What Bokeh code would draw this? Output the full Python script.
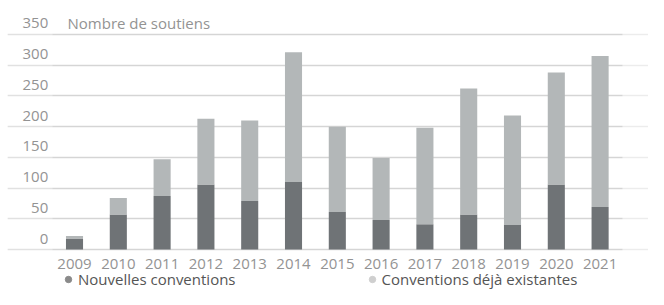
from bokeh.plotting import figure
from bokeh.models import (Range1d, FixedTicker, Legend, LegendItem, BoxAnnotation,
                          ColumnDataSource)
from bokeh.core.properties import value
from bokeh.embed import file_html
from bokeh.resources import INLINE

# ---- data ----
years = [2009, 2010, 2011, 2012, 2013, 2014, 2015, 2016, 2017, 2018, 2019, 2020, 2021]
year_labels = [str(y) for y in years]
nouvelles = [18, 57, 87, 106, 79, 110, 61, 48, 41, 57, 40, 106, 69]
existantes = [4, 27, 60, 107, 131, 211, 139, 101, 157, 205, 178, 182, 246]
y_ticks = [0, 50, 100, 150, 200, 250, 300, 350]
y_tick_labels = ["0", "50", "100", "150", "200", "250", "300", "350"]
axis_title = "Nombre de soutiens"
series_names = ["Nouvelles conventions", "Conventions déjà existantes"]

# ---- style ----
FONT = "Open Sans"
DARK = "#6f7376"
LIGHT = "#b3b7b8"
DARK_LEG = "#8a8a8a"
LIGHT_LEG = "#cfcfcf"
GRID = "#d5d5d5"
TXT = "#939393"

src = ColumnDataSource(dict(year=years, nouvelles=nouvelles, existantes=existantes))

# frame covers the whole canvas (labels and legend drawn inside it)
p = figure(width=648, height=289, output_backend="svg", toolbar_location=None,
           x_range=Range1d(2007.47, 2022.105), y_range=Range1d(-65.1, 405.3),
           min_border_left=7, min_border_right=0, min_border_top=0,
           min_border_bottom=0)
p.outline_line_color = None
p.background_fill_color = "white"
p.border_fill_color = "white"

p.xaxis.visible = False
p.yaxis.visible = False
p.xgrid.visible = False
p.ygrid.ticker = FixedTicker(ticks=y_ticks)
p.ygrid.grid_line_color = GRID
p.ygrid.grid_line_width = 1.6

# fade of grid at both ends
p.add_layout(BoxAnnotation(left=2021.51, fill_color="white", fill_alpha=0.55,
                           line_color=None, level="underlay"))
p.add_layout(BoxAnnotation(right=2008.50, fill_color="white", fill_alpha=0.3,
                           line_color=None, level="underlay"))

# bars
p.vbar_stack(["nouvelles", "existantes"], x="year", width=0.39, color=[DARK, LIGHT],
             line_color=None, source=src)

# year labels under the baseline
p.text(x=years, y=[0] * len(years), text=year_labels,
       text_font=value(FONT), text_font_size="15px", text_color=TXT,
       text_align="center", text_baseline="alphabetic", y_offset=14)

# y tick labels, drawn above their grid lines
p.text(x=[2008.40] * len(y_ticks), y=y_ticks, text=y_tick_labels,
       text_font=value(FONT), text_font_size="15px", text_color=TXT,
       text_align="right", text_baseline="alphabetic", y_offset=-11)
p.text(x=[2008.84], y=[y_ticks[-1]], text=[axis_title],
       text_font=value(FONT), text_font_size="15px", text_color=TXT,
       text_align="left", text_baseline="alphabetic", y_offset=-11)

# legend (circle markers) at the bottom; renderers hold no visible point
nan = float("nan")
r1 = p.scatter(x=[nan], y=[nan], marker="circle", color=DARK_LEG)
r2 = p.scatter(x=[nan], y=[nan], marker="circle", color=LIGHT_LEG)
legend = Legend(items=[LegendItem(label=series_names[0], renderers=[r1]),
                       LegendItem(label=series_names[1], renderers=[r2])],
                orientation="horizontal", location=(53, 0),
                glyph_width=16, glyph_height=16, label_height=16, label_width=10,
                label_standoff=2, spacing=128, padding=0, margin=0,
                border_line_color=None, background_fill_alpha=0,
                label_text_font=FONT, label_text_font_size="15px",
                label_text_color="#555555")
p.add_layout(legend, "center")

open("out.html", "w").write(file_html(p, INLINE))
